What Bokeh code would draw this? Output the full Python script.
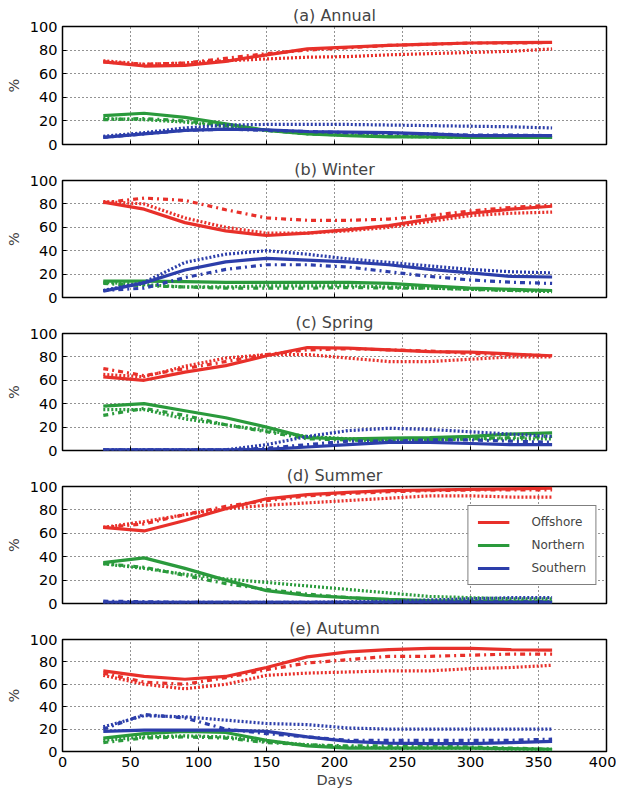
from bokeh.plotting import figure
from bokeh.layouts import column
from bokeh.models import Range1d, FixedTicker, Legend, LegendItem
from bokeh.embed import file_html
from bokeh.resources import INLINE

days = [30, 60, 90, 120, 150, 180, 210, 240, 270, 300, 330, 360]
x_ticks = [0, 50, 100, 150, 200, 250, 300, 350, 400]
y_ticks = [0, 20, 40, 60, 80, 100]
series_names = ["Offshore", "Northern", "Southern"]

# (a) Annual  -- s: solid, dd: dash-dot, dt: dotted
annual_off_s = [70, 66.5, 67, 70.5, 76, 81, 82.5, 84, 85, 86, 86.3, 86.5]
annual_off_dd = [70, 68, 69, 73, 77, 80, 82, 84, 85, 86, 86, 86.5]
annual_off_dt = [71, 68, 69, 71, 72.5, 74, 74.5, 76, 77, 78, 79, 81]
annual_nor_s = [24.5, 26.5, 23, 17.5, 12, 9, 7.5, 6.5, 6.5, 6, 6, 6]
annual_nor_dd = [21, 22, 20, 16, 12, 9, 8, 7, 6.5, 6, 6, 6]
annual_nor_dt = [22, 21, 19, 15, 12, 10, 8, 7, 6.5, 6, 6, 6]
annual_sou_s = [6, 9, 12, 13, 12.5, 11, 10.5, 10, 9, 7.5, 7.5, 7.5]
annual_sou_dd = [6, 9, 12, 13, 12, 11, 10, 9.5, 9, 8, 8, 7.5]
annual_sou_dt = [7, 10, 14, 16.5, 17, 17, 17, 16.5, 16, 15.5, 15, 14]

# (b) Winter
winter_off_s = [81.5, 75.5, 64, 57, 53, 55, 58, 61.5, 67, 72, 75.5, 78]
winter_off_dd = [81, 85, 83, 75, 68, 66, 66, 67, 70, 74, 77, 79]
winter_off_dt = [82, 80, 68, 60, 55, 55, 57, 60, 65, 70, 72, 73]
winter_nor_s = [14, 14, 13.5, 13, 13, 13, 13, 12, 10, 8, 7, 6]
winter_nor_dd = [12, 10, 9, 8, 8, 8, 8.5, 8, 8, 7, 6, 6]
winter_nor_dt = [13, 11, 9, 9, 10, 10, 10, 9, 8, 7, 6, 5]
winter_sou_s = [5.5, 12.5, 23.5, 30.5, 33.5, 32, 30.5, 28, 24, 21, 18, 17.5]
winter_sou_dd = [6, 8, 17, 24, 28, 28, 26, 22, 18, 15, 13, 12]
winter_sou_dt = [6, 13, 30, 37, 40, 37, 33, 30, 27, 24, 22, 21]

# (c) Spring
spring_off_s = [63, 60, 67, 72.5, 81, 88, 87.5, 86, 84.5, 84, 82.5, 81]
spring_off_dd = [70, 64, 70, 76, 82, 86, 87, 86, 85, 83, 82, 81]
spring_off_dt = [65, 63, 72, 79, 82, 82, 79, 76, 76, 78, 80, 80]
spring_nor_s = [38, 40, 34, 28, 20, 11, 10, 10.5, 11, 12, 14, 15]
spring_nor_dd = [30, 36, 30, 22, 16, 10, 9, 8, 9, 10, 11, 12]
spring_nor_dt = [35, 35, 27, 22, 17, 12, 10, 9, 9, 10, 10, 10]
spring_sou_s = [0.5, 0.5, 0.5, 0.5, 1, 3, 5, 7, 7, 6, 5, 5]
spring_sou_dd = [0.5, 0.5, 0.5, 0.5, 2, 5, 8, 8, 9, 9, 8, 7]
spring_sou_dt = [0.5, 0.5, 0.5, 0.5, 5, 12, 17, 19, 18, 16, 14, 12]

# (d) Summer
summer_off_s = [65, 62, 71, 81, 89.5, 93, 95, 96.5, 97, 97.5, 98, 98.5]
summer_off_dd = [65, 68, 76, 83, 88, 92, 94, 95.5, 96.5, 97, 97, 97]
summer_off_dt = [65, 70, 76, 81, 84, 86, 88, 90, 92, 92, 91, 91]
summer_nor_s = [35, 39, 30, 20, 11, 7, 5, 3.5, 2.5, 2, 1.5, 1.5]
summer_nor_dd = [34, 31, 24, 17, 12, 8, 5, 3, 2, 2, 2, 2]
summer_nor_dt = [34, 30, 25, 21, 18, 15, 12, 9, 6, 5, 4, 4]
summer_sou_s = [1, 1, 1, 1, 1, 1, 1, 1, 1, 1, 1, 1]
summer_sou_dd = [2, 1.5, 1, 1, 1, 1, 1, 1, 1.5, 1.5, 1.5, 1.5]
summer_sou_dt = [1, 1, 1, 1, 1, 1, 1.5, 2, 3, 4, 5, 5]

# (e) Autumn
autumn_off_s = [72, 67, 64.5, 67, 75, 84.5, 89, 91, 92, 92, 91, 90.5]
autumn_off_dd = [70, 62, 60, 66, 73, 79, 82, 85, 85, 86, 87, 87]
autumn_off_dt = [68, 60, 56, 60, 68, 70, 71, 72, 72, 74, 75, 77]
autumn_nor_s = [12, 16, 18, 17, 10, 5, 3, 3, 3, 3, 2.5, 2]
autumn_nor_dd = [8, 12, 13, 12, 8, 6, 5, 5, 5, 4, 3, 2]
autumn_nor_dt = [10, 13, 14, 13, 9, 6, 4, 3, 3, 3, 2, 2]
autumn_sou_s = [18, 19, 19, 19, 18, 13, 9, 7.5, 7, 7, 8, 9]
autumn_sou_dd = [20, 33, 30, 20, 16, 13, 10, 10, 10, 10, 10, 11]
autumn_sou_dt = [22, 32, 31, 28, 25, 24, 21, 20, 20, 20, 20, 20]

panels = [
    ("(a) Annual", [[annual_off_s, annual_off_dd, annual_off_dt],
                    [annual_nor_s, annual_nor_dd, annual_nor_dt],
                    [annual_sou_s, annual_sou_dd, annual_sou_dt]]),
    ("(b) Winter", [[winter_off_s, winter_off_dd, winter_off_dt],
                    [winter_nor_s, winter_nor_dd, winter_nor_dt],
                    [winter_sou_s, winter_sou_dd, winter_sou_dt]]),
    ("(c) Spring", [[spring_off_s, spring_off_dd, spring_off_dt],
                    [spring_nor_s, spring_nor_dd, spring_nor_dt],
                    [spring_sou_s, spring_sou_dd, spring_sou_dt]]),
    ("(d) Summer", [[summer_off_s, summer_off_dd, summer_off_dt],
                    [summer_nor_s, summer_nor_dd, summer_nor_dt],
                    [summer_sou_s, summer_sou_dd, summer_sou_dt]]),
    ("(e) Autumn", [[autumn_off_s, autumn_off_dd, autumn_off_dt],
                    [autumn_nor_s, autumn_nor_dd, autumn_nor_dt],
                    [autumn_sou_s, autumn_sou_dd, autumn_sou_dt]]),
]

colors = ["#e8302a", "#2a9a3c", "#2c3eaa"]
styles = [("solid", 3.2), ("5 4 2 4", 3.2), ("2 2", 3.2)]
FONT = "DejaVu Sans"

figs = []
n = len(panels)
for i, (title, groups) in enumerate(panels):
    first = i == 0
    last = i == n - 1
    top = 26 if first else 23
    bottom = 34 if last else 12
    p = figure(width=616, height=top + 118 + bottom, output_backend="svg",
               toolbar_location=None, x_range=Range1d(0, 400), y_range=Range1d(0, 100),
               min_border_left=62, min_border_right=10, min_border_top=top,
               min_border_bottom=bottom)
    p.title.text = title
    p.title.align = "center"
    p.title.text_font = FONT
    p.title.text_font_size = "16px"
    p.title.text_font_style = "normal"
    p.title.standoff = 3
    p.outline_line_color = "black"
    p.outline_line_width = 1.5
    p.outline_line_alpha = 1
    p.background_fill_color = "white"
    p.border_fill_color = "white"

    for ax in (p.xaxis[0], p.yaxis[0]):
        ax.axis_line_color = None
        ax.major_tick_in = 4
        ax.major_tick_out = 0
        ax.minor_tick_line_color = None
        ax.major_tick_line_color = "black"
        ax.major_label_text_font = FONT
        ax.major_label_text_font_size = "14.5px"
        ax.major_label_text_color = "black"
        ax.axis_label_text_font = FONT
        ax.axis_label_text_font_size = "14.5px"
        ax.axis_label_text_font_style = "normal"
    p.xaxis.ticker = FixedTicker(ticks=x_ticks)
    p.yaxis.ticker = FixedTicker(ticks=y_ticks)
    p.yaxis.axis_label = "%"
    p.yaxis.axis_label_standoff = 5
    p.yaxis.major_label_standoff = 5
    if last:
        p.xaxis.axis_label = "Days"
        p.xaxis.axis_label_standoff = 2
        p.xaxis.major_label_standoff = 5
    else:
        p.xaxis.major_label_overrides = {t: "" for t in x_ticks}
        p.xaxis.major_label_standoff = 0

    for g in (p.xgrid[0], p.ygrid[0]):
        g.grid_line_color = "black"
        g.grid_line_dash = "1 3"
        g.grid_line_alpha = 0.85
        g.grid_line_width = 1

    solid_renderers = []
    for c, series in enumerate(groups):
        for k in (2, 1, 0):
            dash, w = styles[k]
            r = p.line(days, series[k], line_color=colors[c], line_width=w,
                       line_dash=dash, line_cap="butt")
            if k == 0:
                solid_renderers.append(r)

    if i == 3:
        legend = Legend(items=[LegendItem(label=series_names[c], renderers=[solid_renderers[c]])
                               for c in range(3)],
                        location="center_right")
        legend.border_line_color = "black"
        legend.border_line_width = 1.5
        legend.background_fill_color = "white"
        legend.background_fill_alpha = 1
        legend.label_text_font = FONT
        legend.label_text_font_size = "12px"
        legend.glyph_width = 32
        legend.glyph_height = 14
        legend.label_standoff = 22
        legend.spacing = 9
        legend.padding = 9
        legend.margin = 10
        p.add_layout(legend)
    figs.append(p)

layout = column(*figs, spacing=0)
open("out.html", "w").write(file_html(layout, INLINE))
